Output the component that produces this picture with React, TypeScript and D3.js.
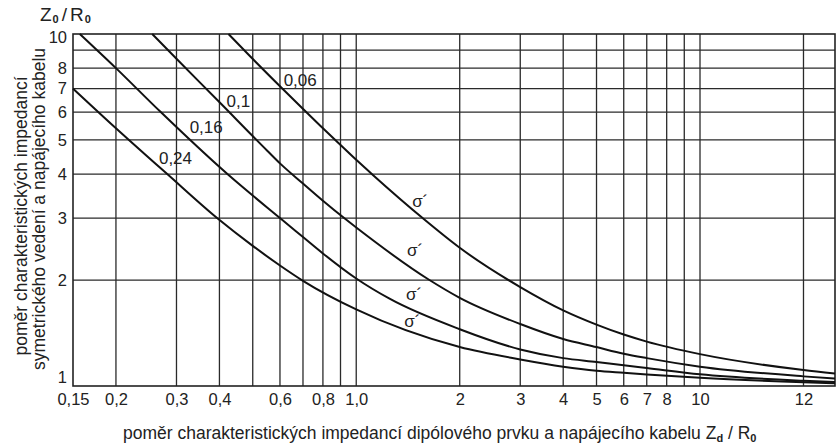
import React, { useEffect, useRef } from "react";
import * as d3 from "d3";

// axis extents (log-log chart)
const xMin = 0.15;
const xMax = 24.7;
const yMin = 1;
const yMax = 10;

// curves, from top-right to bottom-left
const curveLabels = ["0,06", "0,1", "0,16", "0,24"];

const x006 = [0.425, 0.492, 0.597, 0.697, 0.786, 0.886, 1.0, 1.12, 1.566, 2.0, 3.0, 4.0, 5.0, 6.0, 7.0, 10, 20, 24.7];
const y006 = [10, 8.63, 7.14, 6.15, 5.49, 4.91, 4.39, 3.97, 2.99, 2.47, 1.91, 1.64, 1.494, 1.4, 1.337, 1.232, 1.11, 1.085];

const x01 = [0.255, 0.298, 0.397, 0.551, 0.6, 0.7, 0.8, 0.93, 1.0, 1.62, 2.0, 3.0, 4.0, 5.0, 6.0, 7.0, 10, 20, 24.7];
const y01 = [10, 8.56, 6.45, 4.66, 4.29, 3.76, 3.36, 2.98, 2.82, 2.01, 1.78, 1.5, 1.36, 1.29, 1.235, 1.2, 1.135, 1.065, 1.05];

const x016 = [0.157, 0.2, 0.27, 0.422, 0.6, 0.7, 0.8, 1.0, 1.25, 2.0, 3.0, 4.0, 5.0, 6.0, 7.0, 10, 20, 24.7];
const y016 = [10, 8.0, 6.0, 4.0, 3.0, 2.65, 2.38, 2.02, 1.77, 1.45, 1.27, 1.2, 1.17, 1.145, 1.125, 1.08, 1.035, 1.026];

const x024 = [0.15, 0.2, 0.282, 0.397, 0.5, 0.6, 0.7, 1.0, 2.0, 3.0, 4.0, 5.0, 6.0, 7.0, 10, 20, 24.7];
const y024 = [7.0, 5.4, 4.0, 2.98, 2.5, 2.2, 1.99, 1.65, 1.29, 1.19, 1.135, 1.105, 1.09, 1.078, 1.055, 1.025, 1.018];

// where the curve names and the sigma marks sit (data units)
const labelX = [0.687, 0.454, 0.366, 0.298];
const labelY = [7.4, 6.45, 5.41, 4.44];
const sigmaX = [1.535, 1.484, 1.474, 1.455];
const sigmaY = [3.35, 2.42, 1.825, 1.52];

// grid and ticks
const xGrid = [0.2, 0.3, 0.4, 0.5, 0.6, 0.7, 0.8, 0.9, 1, 2, 3, 4, 5, 6, 7, 8, 9, 10, 20];
const yGrid = [2, 3, 4, 5, 6, 7, 8, 9];
const xTickValues = [0.15, 0.2, 0.3, 0.4, 0.6, 0.8, 1, 2, 3, 4, 5, 6, 7, 8, 10, 20];
const xTickLabels = ["0,15", "0,2", "0,3", "0,4", "0,6", "0,8", "1,0", "2", "3", "4", "5", "6", "7", "8", "10", "12"];
const yTickValues = [1, 2, 3, 4, 5, 6, 7, 8, 10];
const yTickLabels = ["1", "2", "3", "4", "5", "6", "7", "8", "10"];

const W = 838;
const H = 445;
const margin = { top: 34, right: 3, bottom: 59, left: 73 };
const FONT = "'Liberation Sans', Arial, sans-serif";
const INK = "#222";

export default function App() {
  const ref = useRef<SVGSVGElement>(null);

  useEffect(() => {
    const svg = d3.select(ref.current);
    svg.selectAll("*").remove();

    const width = W - margin.left - margin.right;
    const height = H - margin.top - margin.bottom;

    const x = d3.scaleLog().domain([xMin, xMax]).range([0, width]);
    const y = d3.scaleLog().domain([yMin, yMax]).range([height, 0]);

    const g = svg
      .append("g")
      .attr("transform", `translate(${margin.left},${margin.top})`)
      .style("font-family", FONT);

    // grid
    g.append("g")
      .selectAll("line")
      .data(xGrid)
      .enter()
      .append("line")
      .attr("x1", (d) => x(d))
      .attr("x2", (d) => x(d))
      .attr("y1", 0)
      .attr("y2", height)
      .attr("stroke", "#2a2a2a")
      .attr("stroke-width", 1.3);

    g.append("g")
      .selectAll("line")
      .data(yGrid)
      .enter()
      .append("line")
      .attr("x1", 0)
      .attr("x2", width)
      .attr("y1", (d) => y(d))
      .attr("y2", (d) => y(d))
      .attr("stroke", "#2a2a2a")
      .attr("stroke-width", 1.3);

    // frame
    g.append("rect")
      .attr("x", 0)
      .attr("y", 0)
      .attr("width", width)
      .attr("height", height)
      .attr("fill", "none")
      .attr("stroke", INK)
      .attr("stroke-width", 1.6);

    // curves
    const series = [
      [x006, y006],
      [x01, y01],
      [x016, y016],
      [x024, y024],
    ];
    const line = d3.line().curve(d3.curveMonotoneX);

    series.forEach(([xs, ys]) => {
      const pts: [number, number][] = xs.map((v, i) => [x(v), y(ys[i])]);
      g.append("path")
        .attr("d", line(pts) as string)
        .attr("fill", "none")
        .attr("stroke", "#111")
        .attr("stroke-width", 2);
    });

    // curve names
    g.append("g")
      .selectAll("text")
      .data(curveLabels)
      .enter()
      .append("text")
      .attr("x", (d, i) => x(labelX[i]))
      .attr("y", (d, i) => y(labelY[i]))
      .attr("text-anchor", "middle")
      .attr("dominant-baseline", "central")
      .style("font-size", "17px")
      .attr("fill", INK)
      .text((d) => d);

    g.append("g")
      .selectAll("text")
      .data(sigmaX)
      .enter()
      .append("text")
      .attr("x", (d) => x(d))
      .attr("y", (d, i) => y(sigmaY[i]))
      .attr("text-anchor", "middle")
      .attr("dominant-baseline", "central")
      .style("font-size", "17px")
      .attr("fill", INK)
      .text("σ\u00B4");

    // x tick labels
    g.append("g")
      .attr("transform", `translate(0,${height})`)
      .call(
        d3
          .axisBottom(x)
          .tickValues(xTickValues)
          .tickFormat((d, i) => xTickLabels[i])
          .tickSize(0)
          .tickPadding(7)
      )
      .call((a) => a.select(".domain").remove())
      .selectAll("text")
      .style("font-family", FONT)
      .style("font-size", "16.5px")
      .attr("fill", INK);

    // y tick labels
    g.append("g")
      .call(
        d3
          .axisLeft(y)
          .tickValues(yTickValues)
          .tickFormat((d, i) => yTickLabels[i])
          .tickSize(0)
          .tickPadding(6)
      )
      .call((a) => a.select(".domain").remove())
      .selectAll("text")
      .style("font-family", FONT)
      .style("font-size", "16.5px")
      .attr("fill", INK)
      .attr("dy", (d) => (d === 1 ? "-0.2em" : d === 10 ? "0.5em" : "0.32em"));

    // axis titles
    const xt = svg
      .append("text")
      .attr("x", 123)
      .attr("y", 439)
      .style("font-family", FONT)
      .style("font-size", "17.5px")
      .attr("fill", INK);
    xt.append("tspan").text(
      "poměr charakteristických impedancí dipólového prvku  a  napájecího kabelu  Z"
    );
    xt.append("tspan").attr("dy", 3).style("font-size", "11px").style("font-weight", "bold").text("d");
    xt.append("tspan").attr("dy", -3).text(" / R");
    xt.append("tspan").attr("dy", 3).style("font-size", "11px").style("font-weight", "bold").text("0");

    svg
      .append("text")
      .attr("transform", "translate(21,216) rotate(-90)")
      .attr("text-anchor", "middle")
      .attr("dominant-baseline", "central")
      .style("font-family", FONT)
      .style("font-size", "17.5px")
      .attr("fill", INK)
      .text("poměr  charakteristických impedancí");

    svg
      .append("text")
      .attr("transform", "translate(39,209) rotate(-90)")
      .attr("text-anchor", "middle")
      .attr("dominant-baseline", "central")
      .style("font-family", FONT)
      .style("font-size", "17.5px")
      .attr("fill", INK)
      .text("symetrického vedení a napájecího kabelu");

    const zt = svg
      .append("text")
      .attr("x", 40)
      .attr("y", 21)
      .style("font-family", FONT)
      .style("font-size", "19px")
      .attr("fill", INK);
    zt.append("tspan").text("Z");
    zt.append("tspan").attr("dx", 1).attr("dy", 2).style("font-size", "11px").style("font-weight", "bold").text("0");
    zt.append("tspan").attr("dx", 3).attr("dy", -2).text("/");
    zt.append("tspan").attr("dx", 3).text("R");
    zt.append("tspan").attr("dx", 1).attr("dy", 2).style("font-size", "11px").style("font-weight", "bold").text("0");
  }, []);

  return (
    <svg
      ref={ref}
      width={W}
      height={H}
      style={{ position: "absolute", left: 0, top: 0, background: "#fff" }}
    />
  );
}
